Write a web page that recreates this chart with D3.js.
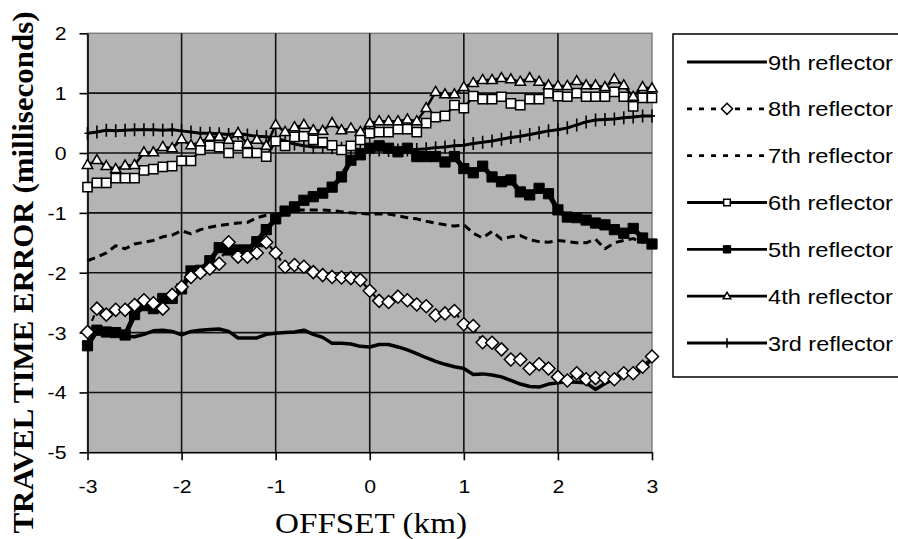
<!DOCTYPE html>
<html><head><meta charset="utf-8">
<script src="https://cdn.jsdelivr.net/npm/d3@7"></script>
<style>body{margin:0;background:#fff;} svg{display:block;}</style>
</head><body>
<svg id="chart" width="898" height="539"></svg>
<script>
// ---------- data ----------
const offsets = [-3.0,-2.9,-2.8,-2.7,-2.6,-2.5,-2.4,-2.3,-2.2,-2.1,-2.0,-1.9,-1.8,-1.7,-1.6,-1.5,-1.4,-1.3,-1.2,-1.1,-1.0,-0.9,-0.8,-0.7,-0.6,-0.5,-0.4,-0.3,-0.2,-0.1,
  0.0,0.1,0.2,0.3,0.4,0.5,0.6,0.7,0.8,0.9,1.0,1.1,1.2,1.3,1.4,1.5,1.6,1.7,1.8,1.9,2.0,2.1,2.2,2.3,2.4,2.5,2.6,2.7,2.8,2.9,3.0];

const reflector9 = [-3.04,-2.95,-2.98,-3.02,-3.06,-3.07,-3.03,-2.97,-2.96,-2.98,-3.04,-2.98,-2.96,-2.95,-2.94,-2.98,-3.09,-3.09,-3.09,-3.03,-3.01,-3.0,-2.99,-2.96,-3.03,-3.08,-3.18,-3.18,-3.19,-3.23,
  -3.24,-3.2,-3.2,-3.24,-3.29,-3.35,-3.42,-3.48,-3.53,-3.57,-3.6,-3.7,-3.69,-3.71,-3.74,-3.8,-3.86,-3.9,-3.91,-3.86,-3.84,-3.82,-3.83,-3.84,-3.95,-3.85,-3.78,-3.66,-3.68,-3.62,-3.42];
const reflector8 = [-2.99,-2.6,-2.7,-2.62,-2.62,-2.54,-2.46,-2.51,-2.6,-2.37,-2.24,-2.07,-2.0,-1.93,-1.85,-1.49,-1.73,-1.73,-1.67,-1.49,-1.67,-1.9,-1.87,-1.9,-1.99,-2.04,-2.07,-2.08,-2.09,-2.12,
  -2.3,-2.47,-2.49,-2.4,-2.46,-2.53,-2.56,-2.71,-2.68,-2.64,-2.86,-2.89,-3.16,-3.17,-3.28,-3.45,-3.45,-3.6,-3.53,-3.6,-3.74,-3.8,-3.68,-3.78,-3.76,-3.76,-3.78,-3.68,-3.68,-3.57,-3.4];
const reflector7 = [-1.8,-1.74,-1.67,-1.55,-1.6,-1.52,-1.49,-1.46,-1.4,-1.37,-1.3,-1.35,-1.28,-1.24,-1.21,-1.19,-1.17,-1.16,-1.08,-1.04,-1.03,-0.98,-0.95,-0.95,-0.95,-0.95,-0.96,-0.98,-1.0,-1.01,
  -1.02,-1.02,-1.02,-1.05,-1.08,-1.1,-1.14,-1.17,-1.2,-1.22,-1.2,-1.34,-1.42,-1.31,-1.44,-1.4,-1.38,-1.45,-1.48,-1.49,-1.46,-1.48,-1.5,-1.5,-1.44,-1.6,-1.5,-1.46,-1.43,-1.49,-1.45];
const reflector6 = [-0.57,-0.5,-0.5,-0.42,-0.42,-0.42,-0.29,-0.27,-0.23,-0.22,-0.13,-0.13,0.05,0.12,0.1,0.0,0.12,0.0,0.0,-0.06,0.2,0.12,0.27,0.28,0.22,0.18,0.13,0.05,0.12,0.22,
  0.33,0.35,0.35,0.4,0.4,0.35,0.5,0.6,0.62,0.8,0.75,0.95,0.9,0.9,0.94,0.83,0.8,0.9,0.9,1.0,0.95,0.94,1.0,0.94,0.94,0.94,1.02,0.94,0.78,0.92,0.92];
const reflector5 = [-3.22,-2.96,-2.99,-3.0,-3.04,-2.7,-2.55,-2.6,-2.43,-2.43,-2.27,-1.97,-1.96,-1.8,-1.58,-1.62,-1.62,-1.62,-1.48,-1.28,-1.1,-0.97,-0.9,-0.79,-0.73,-0.67,-0.57,-0.4,-0.12,-0.03,
  0.08,0.12,0.08,0.02,0.08,-0.06,-0.06,-0.06,-0.15,-0.06,-0.26,-0.33,-0.22,-0.4,-0.48,-0.45,-0.65,-0.7,-0.59,-0.68,-0.95,-1.07,-1.08,-1.12,-1.17,-1.2,-1.28,-1.34,-1.26,-1.42,-1.52];
const reflector4 = [-0.2,-0.12,-0.22,-0.27,-0.21,-0.2,0.01,0.01,0.1,0.08,0.23,0.13,0.18,0.27,0.27,0.22,0.33,0.15,0.22,0.12,0.47,0.35,0.43,0.47,0.38,0.37,0.5,0.38,0.41,0.35,
  0.5,0.53,0.53,0.53,0.56,0.53,0.75,1.02,0.98,0.98,1.1,1.17,1.22,1.22,1.25,1.23,1.19,1.25,1.19,1.13,1.12,1.12,1.2,1.13,1.13,1.1,1.23,1.13,0.94,1.1,1.08];
const reflector3 = [0.33,0.35,0.38,0.37,0.38,0.39,0.39,0.39,0.38,0.39,0.37,0.35,0.33,0.33,0.32,0.31,0.33,0.3,0.28,0.27,0.25,0.2,0.15,0.12,0.1,0.1,0.09,0.08,0.07,0.06,
  0.05,0.05,0.04,0.05,0.05,0.06,0.07,0.09,0.1,0.12,0.13,0.16,0.18,0.2,0.23,0.26,0.28,0.31,0.34,0.37,0.39,0.42,0.47,0.52,0.55,0.56,0.57,0.59,0.6,0.62,0.62];

const seriesNames = ["9th reflector","8th reflector","7th reflector","6th reflector","5th reflector","4th reflector","3rd reflector"];
const xTickValues = [-3,-2,-1,0,1,2,3];
const yTickValues = [-5,-4,-3,-2,-1,0,1,2];
const xTitle = "OFFSET (km)";
const yTitle = "TRAVEL TIME ERROR (milliseconds)";

// ---------- styles (kept apart from data) ----------
const styles = {
  "9th reflector": {values: reflector9, width: 3.5, dash: null, marker: null},
  "8th reflector": {values: reflector8, width: 2.2, dash: "6,6", marker: "diamond"},
  "7th reflector": {values: reflector7, width: 3, dash: "8,5", marker: null},
  "6th reflector": {values: reflector6, width: 2.5, dash: null, marker: "squareOpen"},
  "5th reflector": {values: reflector5, width: 5, dash: null, marker: "squareFilled"},
  "4th reflector": {values: reflector4, width: 2.5, dash: null, marker: "triangle"},
  "3rd reflector": {values: reflector3, width: 3, dash: null, marker: "plus"}
};
const drawOrder = ["9th reflector","7th reflector","3rd reflector","5th reflector","8th reflector","6th reflector","4th reflector"];

const svg = d3.select("#chart");
const pLeft = 87.5, pRight = 652, pTop = 33.3, pBottom = 452.3;
const x = d3.scaleLinear().domain([-3,3]).range([pLeft,pRight]);
const y = d3.scaleLinear().domain([-5,2]).range([pBottom,pTop]);

// plot background
svg.append("rect").attr("x",pLeft).attr("y",pTop).attr("width",pRight-pLeft).attr("height",pBottom-pTop)
  .attr("fill","#b4b4b4").attr("stroke","#808080").attr("stroke-width",1.5);

// gridlines
svg.append("g").selectAll("line").data(yTickValues.filter(v=>v>-5 && v<2)).join("line")
  .attr("x1",pLeft).attr("x2",pRight).attr("y1",d=>y(d)).attr("y2",d=>y(d))
  .attr("stroke","#111").attr("stroke-width",1.6);
svg.append("g").selectAll("line").data(xTickValues.filter(v=>v>-3 && v<3)).join("line")
  .attr("y1",pTop).attr("y2",pBottom).attr("x1",d=>x(d)).attr("x2",d=>x(d))
  .attr("stroke","#111").attr("stroke-width",1.6);

// axes
const fmt = d => String(d);
const xAxis = svg.append("g").attr("transform",`translate(0,${pBottom})`)
  .call(d3.axisBottom(x).tickValues(xTickValues).tickFormat(fmt).tickSize(8).tickSizeOuter(0).tickPadding(20));
const yAxis = svg.append("g").attr("transform",`translate(${pLeft},0)`)
  .call(d3.axisLeft(y).tickValues(yTickValues).tickFormat(fmt).tickSize(8).tickSizeOuter(0).tickPadding(13));
[xAxis,yAxis].forEach(g=>{
  g.select(".domain").attr("stroke","#000").attr("stroke-width",1.6);
  g.selectAll(".tick line").attr("stroke","#000").attr("stroke-width",1.6);
  g.selectAll(".tick text").attr("font-family","'Liberation Sans', Arial, sans-serif")
    .attr("font-size",18).attr("fill","#000")
    .each(function(){ const w=this.getComputedTextLength(); d3.select(this).attr("textLength",w*1.18).attr("lengthAdjust","spacingAndGlyphs"); });
});
yAxis.selectAll(".tick text").attr("dy","0.36em");

// markers
function markerPath(type, s){
  if(type==="diamond"){ const h=6.5*s; return `M0,${-h}L${h},0L0,${h}L${-h},0Z`; }
  if(type==="squareOpen"){ const h=4.6*s; return `M${-h},${-h}H${h}V${h}H${-h}Z`; }
  if(type==="squareFilled"){ const h=5.1*s; return `M${-h},${-h}H${h}V${h}H${-h}Z`; }
  if(type==="triangle"){ const w=5.2*s, ht=9*s; return `M0,${-ht*0.62}L${w},${ht*0.38}L${-w},${ht*0.38}Z`; }
  if(type==="plus"){ const h=6.5*s, w=3*s; return `M0,${-h}V${h}M${-w},0H${w}`; }
  return "";
}
function markerStyle(sel, type){
  if(type==="squareFilled") sel.attr("fill","#000").attr("stroke","#000").attr("stroke-width",1);
  else if(type==="plus") sel.attr("fill","none").attr("stroke","#000").attr("stroke-width",1.6);
  else sel.attr("fill","#fff").attr("stroke","#000").attr("stroke-width",1.5);
}

const line = d3.line().x(d=>x(d[0])).y(d=>y(d[1]));
drawOrder.forEach(name=>{
  const st = styles[name];
  const pts = offsets.map((o,i)=>[o, st.values[i]]);
  const g = svg.append("g");
  g.append("path").attr("d",line(pts)).attr("fill","none").attr("stroke","#000")
    .attr("stroke-width",st.width).attr("stroke-dasharray",st.dash).attr("stroke-linejoin","round");
  if(st.marker){
    const m = g.selectAll("path.m").data(pts).join("path").attr("class","m")
      .attr("transform",d=>`translate(${x(d[0])},${y(d[1])})`)
      .attr("d",markerPath(st.marker,1));
    markerStyle(m, st.marker);
  }
});

// legend
const lg = svg.append("g");
lg.append("rect").attr("x",673).attr("y",34).attr("width",240).attr("height",343)
  .attr("fill","#fff").attr("stroke","#000").attr("stroke-width",1.5);
const rowY = d3.scalePoint().domain(seriesNames).range([62,343]);
seriesNames.forEach(name=>{
  const st = styles[name];
  const cy = rowY(name);
  lg.append("line").attr("x1",687).attr("x2",767).attr("y1",cy).attr("y2",cy)
    .attr("stroke","#000").attr("stroke-width",2.8).attr("stroke-dasharray", st.dash ? "5,7" : null);
  if(st.marker){
    const m = lg.append("path").attr("transform",`translate(727,${cy})`).attr("d",markerPath(st.marker, st.marker==="diamond"?0.85:0.72));
    markerStyle(m, st.marker);
  }
  lg.append("text").attr("x",768).attr("y",cy+7.5).text(name)
    .attr("font-family","'Liberation Sans', Arial, sans-serif").attr("font-size",21).attr("fill","#000")
    .attr("textLength",125).attr("lengthAdjust","spacingAndGlyphs");
});

// axis titles
svg.append("text").attr("x",371).attr("y",533).attr("text-anchor","middle").text(xTitle)
  .attr("font-family","'Liberation Serif', 'Times New Roman', serif").attr("font-size",30).attr("fill","#000")
  .attr("textLength",192).attr("lengthAdjust","spacingAndGlyphs");
svg.append("text").attr("transform","translate(33,272.5) rotate(-90)").attr("text-anchor","middle").text(yTitle)
  .attr("font-family","'Liberation Serif', 'Times New Roman', serif").attr("font-size",30).attr("font-weight","bold").attr("fill","#000")
  .attr("textLength",522).attr("lengthAdjust","spacingAndGlyphs");
</script>
</body></html>
